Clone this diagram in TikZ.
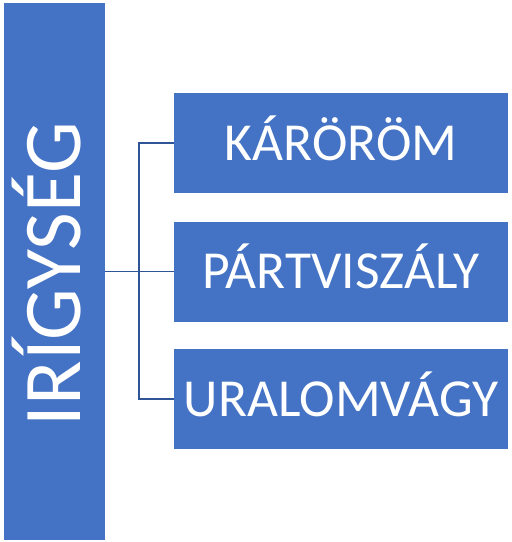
\documentclass[tikz,border=0pt]{standalone}
\usepackage{fontspec}
\setmainfont{Carlito}
\definecolor{boxblue}{HTML}{4472C4}
\definecolor{lineblue}{HTML}{2F5597}
\tikzset{
  topic/.style={fill=boxblue, text=white, inner sep=0pt, minimum width=334pt, minimum height=100pt,
    font=\fontsize{53.5}{60}\selectfont, text height=34.5pt, text depth=0pt},
  link/.style={draw=lineblue, line width=1.5pt}
}

\begin{document}
\begin{tikzpicture}[x=1pt, y=1pt]
      \useasboundingbox (0,0) rectangle (512,-542);

      % Main bar on the left
      \node[fill=boxblue, inner sep=0pt, minimum width=101pt, minimum height=537pt] (bar) at (54.5,-271.5) {};
      \node[rotate=90, anchor=base, text=white, font=\fontsize{82}{90}\selectfont] (title) at (80,-274) {IRÍGYSÉG};

      % Boxes on the right
      \node[topic] (k) at (341,-143) {KÁRÖRÖM};
      \node[topic] (p) at (341,-271.5) {PÁRTVISZÁLY};
      \node[topic] (u) at (341,-399) {URALOMVÁGY};

      % Fork of the connectors
      \coordinate (fork) at (139,-271.5);

      % Connectors
      \draw[link] (bar.east) -- (p.west);
      \draw[link] (k.west) -| (fork) |- (u.west);
  \end{tikzpicture}
\end{document}
